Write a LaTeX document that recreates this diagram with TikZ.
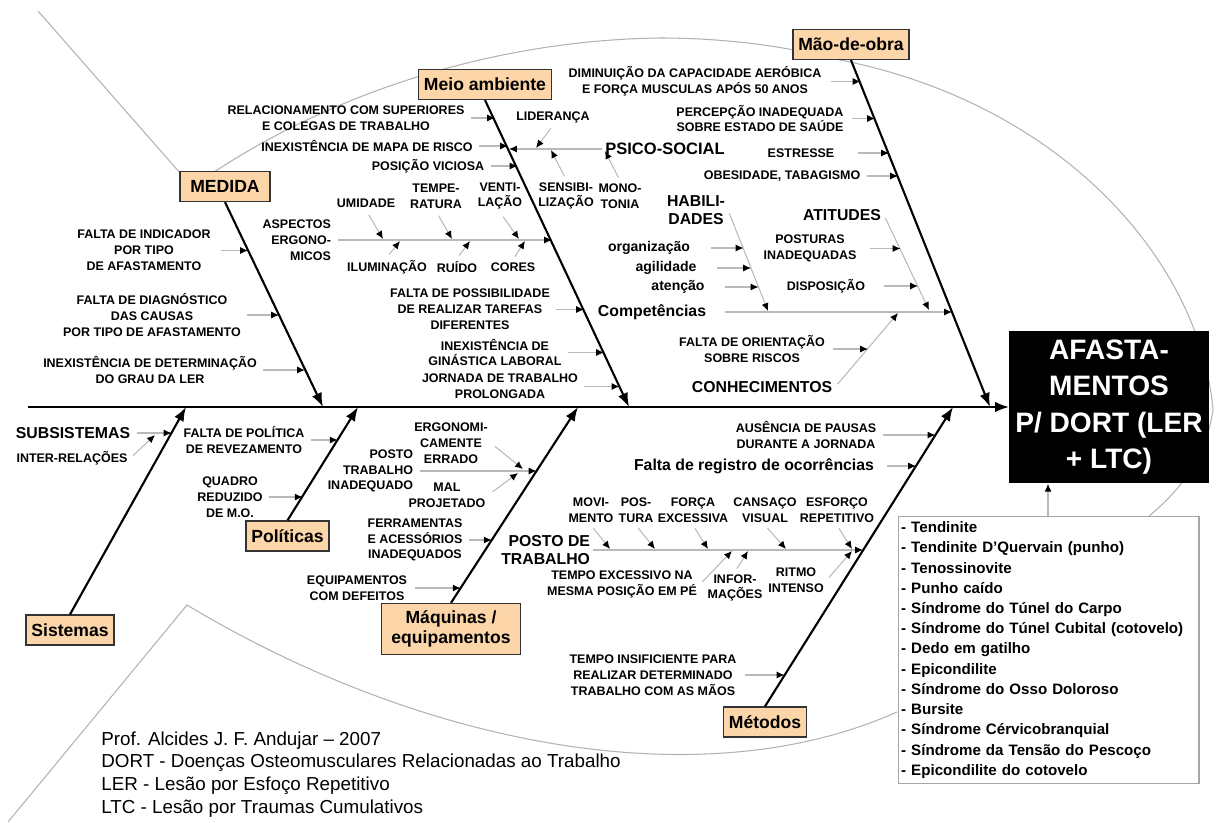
\documentclass[tikz,border=0pt]{standalone}
\usepackage{fontspec}
\setmainfont{Liberation Sans}
\usepackage{xcolor}
\usetikzlibrary{arrows.meta, positioning}
\definecolor{peach}{RGB}{252,213,168}

\begin{document}
\begin{tikzpicture}[x=0.02cm, y=-0.02cm,
    catbox/.style={draw=black!80, fill=peach, line width=0.8pt, font=\bfseries\fontsize{10}{11.5}\selectfont, align=center, minimum height=17pt, inner xsep=3pt},
    sm/.style={font=\bfseries\fontsize{7.1}{9}\selectfont, align=center, inner sep=1.5pt},
    lw/.style={font=\bfseries\fontsize{8}{9}\selectfont, inner sep=1.5pt},
    lg/.style={font=\bfseries\fontsize{9}{10.3}\selectfont, align=center, inner sep=1.5pt},
    cause/.style={draw=gray!55, line width=0.6pt, shorten <=2pt, -{Latex[length=4.5pt,width=4pt,color=black]}},
    bone/.style={draw=black, line width=1.2pt, -{Latex[length=8pt,width=6pt]}},
    fishline/.style={draw=gray!60, line width=0.6pt}]

    \useasboundingbox (0,0) rectangle (1216,822);

    % Fish outline
    \draw[fishline] (38,11) -- (195,190);
    \draw[fishline] (195,185) .. controls (330,90) and (500,40) .. (660,38)
        .. controls (720,38) and (780,45) .. (830,58)
        .. controls (1060,100) and (1200,260) .. (1213,410)
        .. controls (1205,460) and (1180,490) .. (1148,517);
    \draw[fishline] (8,822) -- (187,605) .. controls (420,745) and (700,800) .. (897,712);

    % Head and list of diseases
    \node[fill=black, text=white, minimum width=113pt, minimum height=87pt, align=center, font=\bfseries\fontsize{16}{20.7}\selectfont] (af) at (1109,407) {AFASTA-\\MENTOS\\P/ DORT (LER\\+ LTC)};
    \node[draw=gray!70, fill=white, line width=0.6pt, anchor=north west, align=left, text width=168pt, inner xsep=1.5pt, inner ysep=3pt, font=\bfseries\fontsize{8.6}{11.5}\selectfont] (lst) at (898,516) {- Tendinite\\- Tendinite D’Quervain (punho)\\- Tenossinovite\\- Punho caído\\- Síndrome do Túnel do Carpo\\- Síndrome do Túnel Cubital (cotovelo)\\- Dedo em gatilho\\- Epicondilite\\- Síndrome do Osso Doloroso\\- Bursite\\- Síndrome Cérvicobranquial\\- Síndrome da Tensão do Pescoço\\- Epicondilite do cotovelo};
    \coordinate (lt) at (1048,516);
    \draw[cause, shorten <=0pt] (lt) -- (lt |- af.south);

    % Categories
    \node[catbox, minimum width=51pt] (md) at (225,186.5) {MEDIDA};
    \node[catbox] (ma) at (485,84.5) {Meio ambiente};
    \node[catbox] (mo) at (851,44.5) {Mão-de-obra};
    \node[catbox] (si) at (70,630) {Sistemas};
    \node[catbox] (po) at (287.5,536) {Políticas};
    \node[catbox, minimum width=79pt, minimum height=29pt] (mq) at (451,629) {Máquinas /\\equipamentos};
    \node[catbox] (me) at (765,722) {Métodos};

    % Spine and bones
    \coordinate (tail) at (28,407);
    \coordinate (sp1) at (323,407);
    \coordinate (sp2) at (629,407);
    \coordinate (sp3) at (990,407);
    \coordinate (sp4) at (186,407);
    \coordinate (sp5) at (358,407);
    \coordinate (sp6) at (578,407);
    \coordinate (sp7) at (953,407);
    \draw[bone] (tail) -- (af.west);
    \draw[bone] (md.south) -- (sp1);
    \draw[bone] (ma.south) -- (sp2);
    \draw[bone] (mo.south) -- (sp3);
    \draw[bone] (si.north) -- (sp4);
    \draw[bone] (po.north) -- (sp5);
    \draw[bone] (mq.north) -- (sp6);
    \draw[bone] (me.north) -- (sp7);

    % Medida
    \node[sm] (m1) at (144,250.5) {FALTA DE INDICADOR\\POR TIPO\\DE AFASTAMENTO};
    \node[sm] (m2) at (152,315) {FALTA DE DIAGNÓSTICO\\DAS CAUSAS\\POR TIPO DE AFASTAMENTO};
    \node[sm] (m3) at (150,370) {INEXISTÊNCIA DE DETERMINAÇÃO\\DO GRAU DA LER};
    \coordinate (b1) at (248,250.5);
    \coordinate (b2) at (279,315);
    \coordinate (b3) at (305,370);
    \draw[cause, shorten <=4pt] (m1.east) -- (b1);
    \draw[cause] (m2.east) -- (b2);
    \draw[cause] (m3.east) -- (b3);

    % Meio ambiente
    \node[sm] (e1) at (346,118) {RELACIONAMENTO COM SUPERIORES\\E COLEGAS DE TRABALHO};
    \node[sm] (e2) at (367,146) {INEXISTÊNCIA DE MAPA DE RISCO};
    \node[sm] (e3) at (428,166) {POSIÇÃO VICIOSA};
    \coordinate (b4) at (495,118);
    \coordinate (b5) at (508,146);
    \coordinate (b6) at (517.5,166);
    \draw[cause] (e1.east) -- (b4);
    \draw[cause] (e2.east) -- (b5);
    \draw[cause] (e3.east) -- (b6);

    \node[lg, font=\bfseries\fontsize{9.4}{10.3}\selectfont] (ps) at (665,149) {PSICO-SOCIAL};
    \coordinate (bps) at (509,149);
    \draw[cause, shorten <=0pt] (ps.west) -- (bps);
    \node[sm] (e4) at (553,117) {LIDERANÇA};
    \node[sm] (e5) at (566,196) {SENSIBI-\\LIZAÇÃO};
    \node[sm] (e6) at (620,196) {MONO-\\TONIA};
    \coordinate (ps1) at (536,148);
    \coordinate (ps2) at (551,150);
    \coordinate (ps3) at (605,151);
    \draw[cause] (e4.south) -- (ps1);
    \draw[cause] (e5.north) -- (ps2);
    \draw[cause] (e6.north) -- (ps3);

    \node[sm, align=right, anchor=east] (e7) at (334,240) {ASPECTOS\\ERGONO-\\MICOS};
    \coordinate (b7) at (552,240);
    \draw[cause] (e7.east) -- (b7);
    \node[sm] (e8) at (366,203) {UMIDADE};
    \node[sm] (e9) at (436,196) {TEMPE-\\RATURA};
    \node[sm] (e10) at (500,196) {VENTI-\\LAÇÃO};
    \node[sm] (e11) at (387,267) {ILUMINAÇÃO};
    \node[sm] (e12) at (457,267) {RUÍDO};
    \node[sm] (e13) at (513,267) {CORES};
    \coordinate (as1) at (383,239);
    \coordinate (as2) at (452,239);
    \coordinate (as3) at (519,239);
    \coordinate (as4) at (400,241);
    \coordinate (as5) at (470,241);
    \coordinate (as6) at (525,241);
    \draw[cause, shorten <=3pt] (e8.south) -- (as1);
    \draw[cause, shorten <=3pt] (e9.south) -- (as2);
    \draw[cause, shorten <=3pt] (e10.south) -- (as3);
    \draw[cause] (e11.north) -- (as4);
    \draw[cause] (e12.north) -- (as5);
    \draw[cause] (e13.north) -- (as6);

    \node[sm] (e14) at (470,309.5) {FALTA DE POSSIBILIDADE\\DE REALIZAR TAREFAS\\DIFERENTES};
    \node[sm] (e15) at (495,352.5) {INEXISTÊNCIA DE\\GINÁSTICA LABORAL};
    \node[sm] (e16) at (500,386.5) {JORNADA DE TRABALHO\\PROLONGADA};
    \coordinate (b8) at (584,309.5);
    \coordinate (b9) at (604,352.5);
    \coordinate (b10) at (619.5,386.5);
    \draw[cause] (e14.east) -- (b8);
    \draw[cause] (e15.east) -- (b9);
    \draw[cause] (e16.east) -- (b10);

    % Mao-de-obra
    \node[sm] (o1) at (695,81.5) {DIMINUIÇÃO DA CAPACIDADE AERÓBICA\\E FORÇA MUSCULAS APÓS 50 ANOS};
    \node[sm] (o2) at (760,118.5) {PERCEPÇÃO INADEQUADA\\SOBRE ESTADO DE SAÚDE};
    \node[sm] (o3) at (801,153) {ESTRESSE};
    \node[sm] (o4) at (782,176) {OBESIDADE, TABAGISMO};
    \coordinate (b11) at (860.5,81.5);
    \coordinate (b12) at (875,118.5);
    \coordinate (b13) at (889,153);
    \coordinate (b14) at (898,176);
    \draw[cause, shorten <=4pt] (o1.east) -- (b11);
    \draw[cause, shorten <=3pt] (o2.east) -- (b12);
    \draw[cause, shorten <=12pt] (o3.east) -- (b13);
    \draw[cause] (o4.east) -- (b14);

    \node[lg] (o5) at (696,210) {HABILI-\\DADES};
    \node[lw] (o6) at (649,248) {organização};
    \node[lw] (o7) at (666,268) {agilidade};
    \node[lw] (o8) at (678,287) {atenção};
    \coordinate (h0) at (768,311);
    \coordinate (h1) at (743.5,248);
    \coordinate (h2) at (751,268);
    \coordinate (h3) at (758.5,287);
    \draw[cause] (o5.east) -- (h0);
    \draw[cause, shorten <=10pt] (o6.east) -- (h1);
    \draw[cause, shorten <=10pt] (o7.east) -- (h2);
    \draw[cause, shorten <=10pt] (o8.east) -- (h3);

    \node[lg] (o9) at (652,312) {Competências};
    \coordinate (b15) at (952,312);
    \draw[cause, shorten <=9pt] (o9.east) -- (b15);

    \node[lg] (o10) at (842,215) {ATITUDES};
    \node[sm] (o11) at (810,248.5) {POSTURAS\\INADEQUADAS};
    \node[sm] (o12) at (826,286) {DISPOSIÇÃO};
    \coordinate (a0) at (929,310);
    \coordinate (a1) at (900.5,248.5);
    \coordinate (a2) at (918,286);
    \draw[cause] (o10.east) -- (a0);
    \draw[cause, shorten <=6pt] (o11.east) -- (a1);
    \draw[cause, shorten <=9pt] (o12.east) -- (a2);

    \node[lg] (o13) at (762,387) {CONHECIMENTOS};
    \node[sm] (o14) at (752,349) {FALTA DE ORIENTAÇÃO\\SOBRE RISCOS};
    \coordinate (k0) at (898,313);
    \coordinate (k1) at (868,349);
    \draw[cause] (o13.east) -- (k0);
    \draw[cause, shorten <=3pt] (o14.east) -- (k1);

    % Sistemas
    \node[lg] (s1) at (73,433) {SUBSISTEMAS};
    \node[sm] (s2) at (72,458) {INTER-RELAÇÕES};
    \coordinate (b16) at (171.6,433);
    \coordinate (ss1) at (155,435);
    \draw[cause] (s1.east) -- (b16);
    \draw[cause] (s2.east) -- (ss1);

    % Politicas
    \node[sm] (p1) at (244,440) {FALTA DE POLÍTICA\\DE REVEZAMENTO};
    \node[sm] (p2) at (230,497) {QUADRO\\REDUZIDO\\DE M.O.};
    \coordinate (b17) at (337.7,440);
    \coordinate (b18) at (302.7,497);
    \draw[cause] (p1.east) -- (b17);
    \draw[cause] (p2.east) -- (b18);

    % Maquinas / equipamentos
    \node[sm, align=right, anchor=east] (q1) at (416,471) {POSTO\\TRABALHO\\INADEQUADO};
    \node[sm] (q2) at (451,443) {ERGONOMI-\\CAMENTE\\ERRADO};
    \node[sm] (q3) at (447,495) {MAL\\PROJETADO};
    \coordinate (b19) at (536.5,471);
    \coordinate (pq1) at (523,469);
    \coordinate (pq2) at (518,473);
    \draw[cause] (q1.east) -- (b19);
    \draw[cause, shorten <=3pt] (q2.east) -- (pq1);
    \draw[cause, shorten <=3pt] (q3.east) -- (pq2);
    \node[sm] (q4) at (415,540) {FERRAMENTAS\\E ACESSÓRIOS\\INADEQUADOS};
    \node[sm] (q5) at (357,588) {EQUIPAMENTOS\\COM DEFEITOS};
    \coordinate (b20) at (491.8,540);
    \coordinate (b21) at (460.7,588);
    \draw[cause] (q4.east) -- (b20);
    \draw[cause, shorten <=3pt] (q5.east) -- (b21);

    % Metodos
    \node[sm] (mt1) at (806,435) {AUSÊNCIA DE PAUSAS\\DURANTE A JORNADA};
    \node[lg] (mt2) at (754,466) {Falta de registro de ocorrências};
    \coordinate (b22) at (935.4,435);
    \coordinate (b23) at (916,466);
    \draw[cause] (mt1.east) -- (b22);
    \draw[cause, shorten <=6pt] (mt2.east) -- (b23);

    \node[lg, align=right, anchor=east] (mt3) at (593,550) {POSTO DE\\TRABALHO};
    \coordinate (b24) at (863,550);
    \draw[cause, shorten <=0pt] (mt3.east) -- (b24);
    \node[sm] (mt4) at (591,510) {MOVI-\\MENTO};
    \node[sm] (mt5) at (636,510) {POS-\\TURA};
    \node[sm] (mt6) at (693,510) {FORÇA\\EXCESSIVA};
    \node[sm] (mt7) at (765,510) {CANSAÇO\\VISUAL};
    \node[sm] (mt8) at (837,510) {ESFORÇO\\REPETITIVO};
    \node[sm] (mt9) at (622,584.5) {TEMPO EXCESSIVO NA\\MESMA POSIÇÃO EM PÉ};
    \node[sm] (mt10) at (735,588) {INFOR-\\MAÇÕES};
    \node[sm] (mt11) at (796,580) {RITMO\\INTENSO};
    \coordinate (pt1) at (610,549);
    \coordinate (pt2) at (655,549);
    \coordinate (pt3) at (708,549);
    \coordinate (pt4) at (786,549);
    \coordinate (pt5) at (852,549);
    \coordinate (pt6) at (732,551);
    \coordinate (pt7) at (748,551);
    \coordinate (pt8) at (852,551);
    \draw[cause] (mt4.south) -- (pt1);
    \draw[cause] (mt5.south) -- (pt2);
    \draw[cause] (mt6.south) -- (pt3);
    \draw[cause] (mt7.south) -- (pt4);
    \draw[cause] (mt8.south) -- (pt5);
    \draw[cause] (mt9.east) -- (pt6);
    \draw[cause] (mt10.north) -- (pt7);
    \draw[cause] (mt11.east) -- (pt8);

    \node[sm] (mt12) at (653,675) {TEMPO INSIFICIENTE PARA\\REALIZAR DETERMINADO\\TRABALHO COM AS MÃOS};
    \coordinate (b25) at (784.5,675);
    \draw[cause, shorten <=3pt] (mt12.east) -- (b25);

    % Notes
    \node[anchor=west, align=left, inner sep=0pt, font=\fontsize{10.7}{13}\selectfont] (ft) at (101,774.5) {Prof. Alcides J. F. Andujar – 2007\\DORT - Doenças Osteomusculares Relacionadas ao Trabalho\\LER - Lesão por Esfoço Repetitivo\\LTC - Lesão por Traumas Cumulativos};
\end{tikzpicture}
\end{document}
